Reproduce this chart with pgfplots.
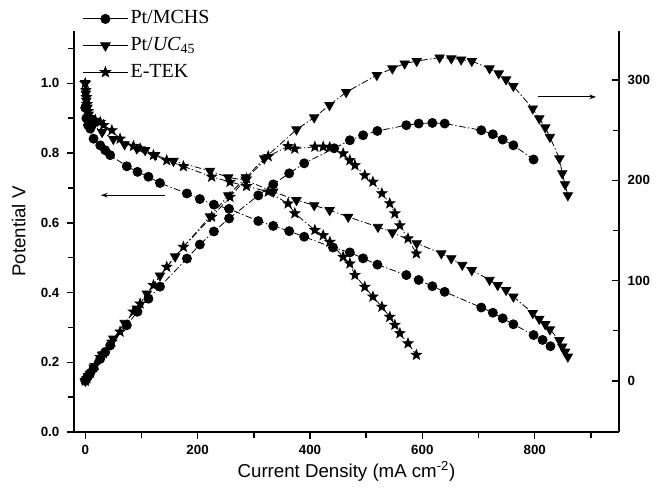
\documentclass[border=0pt]{standalone}
\usepackage{fontspec}
\setmainfont{Liberation Sans}
\newfontfamily\seriffont{Liberation Serif}
\usepackage{pgfplots}
\pgfplotsset{compat=1.18}
\usetikzlibrary{arrows.meta}

\pgfdeclareplotmark{fstar}{%
  \pgfpathmoveto{\pgfpointpolar{90}{\pgfplotmarksize}}%
  \pgfpathlineto{\pgfpointpolar{126}{0.42\pgfplotmarksize}}%
  \pgfpathlineto{\pgfpointpolar{162}{\pgfplotmarksize}}%
  \pgfpathlineto{\pgfpointpolar{198}{0.42\pgfplotmarksize}}%
  \pgfpathlineto{\pgfpointpolar{234}{\pgfplotmarksize}}%
  \pgfpathlineto{\pgfpointpolar{270}{0.42\pgfplotmarksize}}%
  \pgfpathlineto{\pgfpointpolar{306}{\pgfplotmarksize}}%
  \pgfpathlineto{\pgfpointpolar{342}{0.42\pgfplotmarksize}}%
  \pgfpathlineto{\pgfpointpolar{18}{\pgfplotmarksize}}%
  \pgfpathlineto{\pgfpointpolar{54}{0.42\pgfplotmarksize}}%
  \pgfpathclose
  \pgfusepathqfillstroke
}

\pgfplotstableread{
x y
0 0.93
2 0.90
5 0.88
9 0.87
14.8 0.841
26.7 0.822
35.5 0.808
44.4 0.794
74 0.762
93 0.746
112.5 0.732
133 0.714
181 0.684
204 0.668
229 0.652
256 0.640
308 0.605
334.6 0.591
363 0.576
389.7 0.560
441 0.529
471 0.515
494.5 0.498
520 0.480
571.5 0.450
593.5 0.436
617.8 0.418
639.7 0.402
704.9 0.357
725.5 0.342
743 0.326
762 0.309
798 0.278
814 0.264
828 0.246
}\mchsV

\pgfplotstableread{
x y
0 0
2 1.8
5 4.4
9 7.8
14.8 12.4
26.7 22
35.5 28.7
44.4 35.3
74 55.5
93 69
112.5 82
133 94
181 122
204 136
229 149
256 162
308 185
334.6 196
363 207
389.7 217
443 232
471 240
494.5 245
520 249.3
571.5 255
593.5 256.7
617.8 257.3
639.7 256.7
704.9 250
725.5 246
743 240.7
762 235
798 220.8
}\mchsP

\pgfplotstableread{
x y
0 1.00
1 0.97
2 0.95
4 0.93
6 0.91
10 0.895
15 0.88
30 0.86
50 0.84
70 0.825
91.8 0.813
106.6 0.808
124.4 0.794
157 0.777
222 0.749
254.6 0.730
286 0.722
334.6 0.689
376 0.665
407.5 0.650
435 0.636
468 0.617
521 0.588
546.7 0.572
590 0.541
633.8 0.512
651.5 0.498
671 0.479
688 0.464
719.6 0.436
734 0.421
749 0.407
762 0.388
796.5 0.341
808 0.324
818.7 0.309
827 0.294
844 0.263
849 0.245
854 0.230
859 0.216
}\ucV

\pgfplotstableread{
x y
0 0
5 4.6
15 13.2
30 25.8
50 42
70 57.8
91.8 72
109.6 87
133 105
160 124
222 164
254.6 185
286 203
318.7 221.8
376 250.7
407.5 262.7
434.7 275
464.4 288
519 305
546.7 311.6
568.5 316.5
590 319
630.7 322.5
651.5 321.6
669 320.5
688 319
719.6 311.6
736 306.6
749 300.6
762 294
796.5 271.6
808 261.7
818.7 252.7
827 243.3
844 221.8
849 207
854 196
859 185
}\ucP

\pgfplotstableread{
x y
0 1.00
1 0.98
2 0.96
3 0.94
5 0.92
8.9 0.903
17.8 0.895
26.7 0.889
32.5 0.88
47.4 0.865
62 0.841
85.8 0.82
97.7 0.813
121.4 0.794
145 0.779
174.7 0.762
225 0.732
257.6 0.717
287 0.705
325.7 0.689
361 0.655
373 0.627
408.7 0.579
423.5 0.564
435.4 0.545
459 0.502
471 0.483
480 0.450
497.5 0.416
512 0.388
528 0.359
542 0.330
551 0.307
560 0.283
574.5 0.254
589.4 0.221
}\etekV

\pgfplotstableread{
x y
0 0
3 2.4
8.9 8
17.8 15.7
26.7 23.7
32.5 27.3
47.4 39
62 49
85.8 69
97.7 77
121.4 95.4
145 113.7
174.7 133.6
225 163.6
257.6 183.5
287 201.8
325.7 224
361 234
373 231.6
408.7 233.5
423.5 233.5
435 233
459 226.8
471 220
480 215
497.5 205
512 198.5
528 187
542 177
551 167
560 155
574.5 142
589.4 127
}\etekP

\pgfplotsset{
  dd/.style={line width=0.6pt, dash pattern=on 5pt off 1.8pt on 1pt off 1.8pt},
}

\begin{document}
\begin{tikzpicture}
\begin{axis}[
  at={(0,0)}, anchor=south west,
  scale only axis, width=408.75pt, height=300.75pt,
  xmin=-20, xmax=950, ymin=0, ymax=1.15,
  axis x line*=bottom, axis y line*=left,
  axis line style={-, line width=1.1pt},
  every tick/.style={black, line width=1.1pt},
  tick align=outside,
  major tick length=5.5pt, minor tick length=4.5pt,
  xtick={0,200,400,600,800}, minor xtick={100,300,500,700,900},
  ytick={0,0.2,0.4,0.6,0.8,1.0}, minor ytick={0.1,0.3,0.5,0.7,0.9,1.1},
  /pgf/number format/assume math mode=true,
  ticklabel style={font=\fontsize{10}{12}\selectfont\bfseries},
  xticklabel style={yshift=-1pt},
  yticklabel style={/pgf/number format/fixed, /pgf/number format/fixed zerofill, /pgf/number format/precision=1, xshift=-2pt},
  xlabel={Current Density (mA cm\textsuperscript{-2})},
  ylabel={Potential V},
  label style={font=\fontsize{14}{16}\selectfont},
  xlabel style={at={(axis description cs:0.5,0)}, anchor=center, yshift=-29.5pt},
  ylabel style={at={([xshift=-41.5pt]axis description cs:0,0.5)}, anchor=center},
  legend style={at={(0,1)}, anchor=north west, xshift=6pt, yshift=17.5pt,
    draw=none, fill=none, inner sep=0pt, row sep=3.5pt,
    font=\seriffont\fontsize{15}{16}\selectfont,
    nodes={inner sep=1.5pt, text height=10.5pt, text depth=3pt}},
  legend cell align=left,
  legend image code/.code={\draw[mark repeat=2, mark phase=2, #1, solid, line width=0.7pt]
    plot coordinates {(0pt,0pt) (17pt,0pt) (34pt,0pt)};},
  clip=false,
]
\addplot[black, dd, mark=*, mark size=3.4pt, mark options={solid, fill=black}] table {\mchsV};
\addlegendentry{Pt/MCHS}
\addplot[black, dd, mark=triangle*, mark size=4pt, mark options={solid, fill=black, rotate=180}] table {\ucV};
\addlegendentry{Pt/\textit{UC}\textsubscript{45}}
\addplot[black, dd, mark=fstar, mark size=3.9pt, mark options={solid, fill=black}] table {\etekV};
\addlegendentry{E-TEK}
\draw[-{Stealth[length=5pt,width=3.5pt]}, line width=0.6pt] (axis cs:142,0.679) -- (axis cs:28,0.679);
\draw[-{Stealth[length=5pt,width=3.5pt]}, line width=0.6pt] (axis cs:805,0.961) -- (axis cs:909,0.961);
\end{axis}
\begin{axis}[
  at={(0,0)}, anchor=south west,
  scale only axis, width=408.75pt, height=300.75pt,
  xmin=-20, xmax=950, ymin=-51, ymax=349,
  axis x line=none, axis y line*=right,
  axis line style={-, line width=1.1pt},
  every tick/.style={black, line width=1.1pt},
  tick align=inside,
  major tick length=5.5pt, minor tick length=4.5pt,
  ytick={0,100,200,300}, minor ytick={50,150,250},
  /pgf/number format/assume math mode=true,
  ticklabel style={font=\fontsize{10}{12}\selectfont\bfseries},
  yticklabel style={xshift=3pt},
  clip=false,
]
\addplot[black, dd, mark=*, mark size=3.4pt, mark options={solid, fill=black}] table {\mchsP};
\addplot[black, dd, mark=triangle*, mark size=4pt, mark options={solid, fill=black, rotate=180}] table {\ucP};
\addplot[black, dd, mark=fstar, mark size=3.9pt, mark options={solid, fill=black}] table {\etekP};
\end{axis}
\pgfresetboundingbox
\path[use as bounding box] (-55.5pt,-45pt) rectangle (436.5pt,324pt);
\end{tikzpicture}
\end{document}
